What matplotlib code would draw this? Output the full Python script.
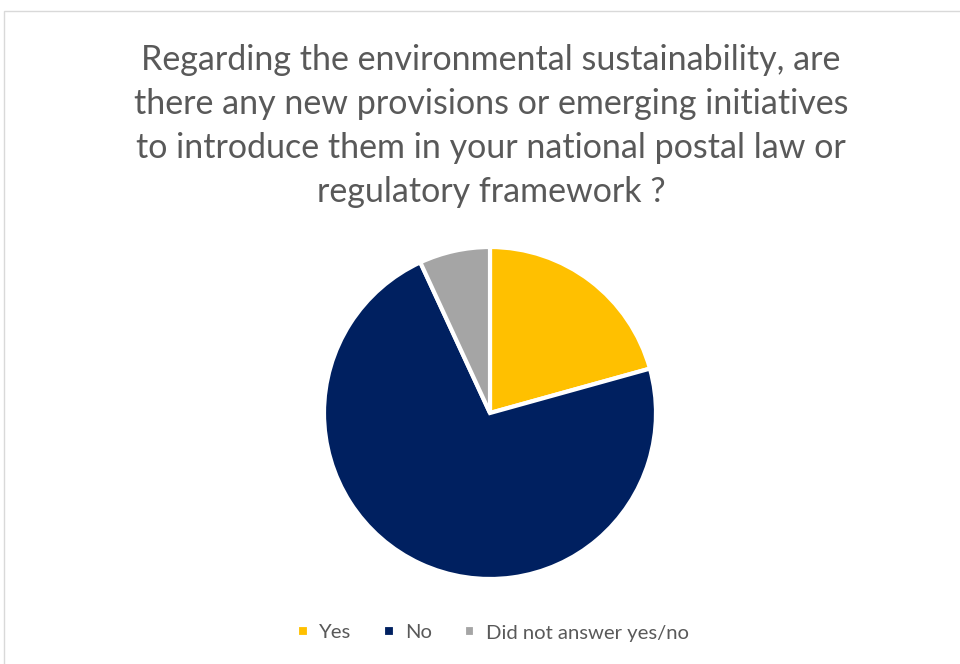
import matplotlib.pyplot as plt
from matplotlib.patches import Rectangle

labels = ['Yes', 'No', 'Did not answer yes/no']
counts = [6, 21, 2]
colors = ['#FFC000', '#002060', '#A5A5A5']
title = ('Regarding the environmental sustainability, are\n'
         'there any new provisions or emerging initiatives\n'
         'to introduce them in your national postal law or\n'
         'regulatory framework ?')

plt.rcParams['font.family'] = ['Lato', 'DejaVu Sans']

fig = plt.figure(figsize=(9.6, 6.64), dpi=100)

# chart frame
fig.patches.append(Rectangle((4 / 960, -0.01), 1.0, 1 - 11 / 664 + 0.01,
                             transform=fig.transFigure, fill=False,
                             edgecolor='#D9D9D9', linewidth=1.0))

fig.text(491 / 960, 1 - 126 / 664, title, ha='center', va='center',
         fontsize=24.5, color='#595959', linespacing=1.45)

ax = fig.add_axes([(490 - 166) / 960, (664 - 413 - 166) / 664, 332 / 960, 332 / 664])
wedges, _ = ax.pie(counts, colors=colors, startangle=90, counterclock=False,
                   wedgeprops=dict(edgecolor='white', linewidth=3))
ax.set_xlim(-1, 1)
ax.set_ylim(-1, 1)
ax.set_aspect('equal')

fig.legend(wedges, labels, loc='center', bbox_to_anchor=(493 / 960, 1 - 633 / 664),
           ncol=3, frameon=False, fontsize=14.6, labelcolor='#595959',
           handlelength=0.55, handleheight=0.55, handletextpad=0.5, columnspacing=1.6)

fig.savefig('out.png', dpi=100)
